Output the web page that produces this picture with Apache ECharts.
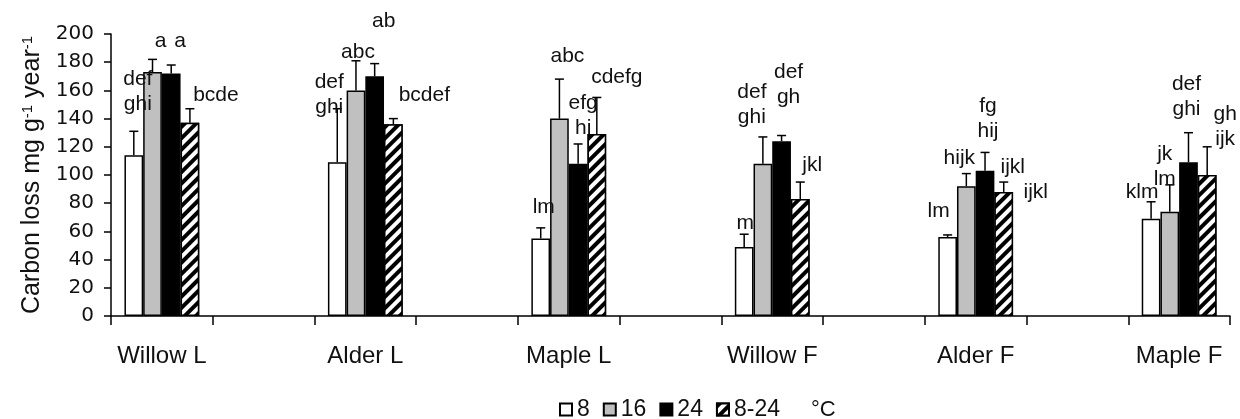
<!DOCTYPE html>
<html>
<head>
<meta charset="utf-8">
<script src="https://cdn.jsdelivr.net/npm/echarts@6/dist/echarts.min.js"></script>
<style>
  html, body { margin: 0; padding: 0; background: #fff; }
  #chart { width: 1240px; height: 419px; }
</style>
</head>
<body>
<div id="chart"></div>
<script>
// Litter groups (L / F) and incubation temperatures
const groups = ['Willow L', 'Alder L', 'Maple L', 'Willow F', 'Alder F', 'Maple F'];
const temps = ['8', '16', '24', '8-24'];

// Mean carbon loss (mg g-1 year-1) per temperature
const mean8   = [114, 109, 55, 49, 56, 69];
const mean16  = [173, 160, 140, 108, 92, 74];
const mean24  = [172, 170, 108, 124, 103, 109];
const mean824 = [137, 136, 129, 83, 88, 100];

// Upper error (standard error) per temperature
const err8   = [17, 38, 7.5, 9, 1.5, 12];
const err16  = [9, 21, 28, 19, 9, 19];
const err24  = [6, 9, 14, 4, 13, 21];
const err824 = [10, 4, 26, 12, 7, 20];

// Significance letters per temperature
const letters8   = ['def\nghi', 'def\nghi', 'lm', 'm', 'lm', 'klm'];
const letters16  = ['a', 'abc', 'abc', 'def\nghi', 'hijk', 'jk\nlm'];
const letters24  = ['a', 'ab', 'efg\nhi', 'def\ngh', 'fg\nhij', 'def\nghi'];
const letters824 = ['bcde', 'bcdef', 'cdefg', 'jkl', 'ijkl', 'gh\nijk'];
// A second letter tag beside Alder F (8-24)
const extraLetters = [{ group: 4, temp: 3, text: 'ijkl' }];

// y axis ticks
const yMin = 0, yMax = 200, yStep = 20;

// ---- layout helpers (not data) ----
const BAR_W = 18.7;
const FONT = 'Liberation Sans, Arial, sans-serif';
const WIDE_FONT = 'DejaVu Sans, sans-serif';
// label nudges [dx, dy] from the error-bar cap, per temperature then group
const labelNudge = [
  [[4, -40], [-8, -14], [3, -21], [1, -11], [-9, -24], [-9, -10]],
  [[8, -18], [2, -9], [8, -23], [-11, -32], [-7, -15], [-5, -18]],
  [[9, -24], [9, -42], [5, -28], [7, -51], [3, -34], [-2, -36]],
  [[26, -14], [31, -23], [20, -20], [12, -17], [9, -15], [18, -20]]
];
const extraNudge = [[32, 10]];

// groups sit on every other category slot
const categories = [];
groups.forEach((g, i) => { categories.push(g); if (i < groups.length - 1) categories.push(''); });
const slotOf = i => i * 2;

const means = [mean8, mean16, mean24, mean824];
const errs = [err8, err16, err24, err824];
const letters = [letters8, letters16, letters24, letters824];

function slotted(arr) {
  const out = categories.map(() => '-');
  arr.forEach((v, i) => { out[slotOf(i)] = v; });
  return out;
}

const hatch = {
  symbol: 'rect', symbolSize: 1,
  dashArrayX: [1, 0], dashArrayY: [3.2, 3.2],
  rotation: -Math.PI / 4,
  color: '#000', backgroundColor: '#fff'
};

const barStyles = [
  { color: '#ffffff', borderColor: '#000', borderWidth: 1.5 },
  { color: '#c0c0c0', borderColor: '#000', borderWidth: 1.5 },
  { color: '#000000', borderColor: '#000', borderWidth: 1.5 },
  { color: '#ffffff', borderColor: '#000', borderWidth: 1.5, decal: hatch }
];

const barSeries = temps.map((t, s) => ({
  name: t,
  type: 'bar',
  barWidth: BAR_W,
  barGap: '0%',
  itemStyle: barStyles[s],
  emphasis: { disabled: true },
  data: slotted(means[s])
}));

// error bars + letter tags
const errItems = [];
temps.forEach((t, s) => {
  groups.forEach((g, i) => {
    errItems.push({
      value: [slotOf(i), means[s][i], means[s][i] + errs[s][i]],
      s: s, texts: [{ text: letters[s][i], d: labelNudge[s][i] }]
    });
  });
});
extraLetters.forEach((e, k) => {
  const item = errItems[e.temp * groups.length + e.group];
  item.texts.push({ text: e.text, d: extraNudge[k] });
});

const errSeries = {
  type: 'custom',
  clip: false,
  z: 5,
  silent: true,
  encode: { x: 0, y: [1, 2] },
  data: errItems.map(d => d.value),
  renderItem: function (params, api) {
    const item = errItems[params.dataIndex];
    const base = api.coord([api.value(0), api.value(1)]);
    const top = api.coord([api.value(0), api.value(2)]);
    const x = base[0] + (item.s - 1.5) * BAR_W;
    const children = [
      { type: 'line', shape: { x1: x, y1: base[1], x2: x, y2: top[1] },
        style: { stroke: '#000', lineWidth: 1.5 } },
      { type: 'line', shape: { x1: x - 4.5, y1: top[1], x2: x + 4.5, y2: top[1] },
        style: { stroke: '#000', lineWidth: 1.5 } }
    ];
    item.texts.forEach(tt => {
      children.push({
        type: 'text', z2: 10,
        x: x + tt.d[0], y: top[1] + tt.d[1],
        style: {
          text: tt.text, fontSize: 21, fontFamily: FONT, lineHeight: 25,
          fill: '#111', align: 'center', verticalAlign: 'middle'
        }
      });
    });
    return { type: 'group', children: children };
  }
};

const chart = echarts.init(document.getElementById('chart'), null, { renderer: 'canvas' });
chart.setOption({
  animation: false,
  backgroundColor: '#fff',
  grid: { left: 111, right: 10, top: 34, bottom: 103 },
  legend: {
    data: temps,
    left: 554, top: 393,
    itemWidth: 12, itemHeight: 12, itemGap: 13,
    icon: 'rect',
    selectedMode: false,
    textStyle: { fontSize: 23, fontFamily: FONT, color: '#111' }
  },
  graphic: [{
    type: 'text', left: 811, top: 399,
    style: { text: '°C', fontSize: 22, fontFamily: FONT, fill: '#111' }
  }],
  xAxis: {
    type: 'category',
    data: categories,
    boundaryGap: true,
    axisLine: { lineStyle: { color: '#000', width: 1.5 } },
    axisTick: { show: true, interval: 0, length: 9, lineStyle: { color: '#000', width: 1.5 } },
    axisLabel: { interval: 0, margin: 28, fontSize: 24, fontFamily: FONT, color: '#111' },
    splitLine: { show: false }
  },
  yAxis: {
    type: 'value',
    min: yMin, max: yMax, interval: yStep,
    name: 'Carbon loss mg g{sup|-1} year{sup|-1}',
    nameLocation: 'middle',
    nameRotate: 90,
    nameGap: 65,
    nameTextStyle: {
      fontSize: 25, fontFamily: FONT, color: '#111',
      rich: { sup: { fontSize: 15, fontFamily: FONT, color: '#111', verticalAlign: 'top' } }
    },
    axisLine: { show: true, lineStyle: { color: '#000', width: 1.5 } },
    axisTick: { show: true, length: 7, lineStyle: { color: '#000', width: 1.5 } },
    axisLabel: { margin: 17, fontSize: 20, fontFamily: WIDE_FONT, color: '#111' },
    splitLine: { show: false }
  },
  series: barSeries.concat([errSeries])
});
</script>
</body>
</html>
